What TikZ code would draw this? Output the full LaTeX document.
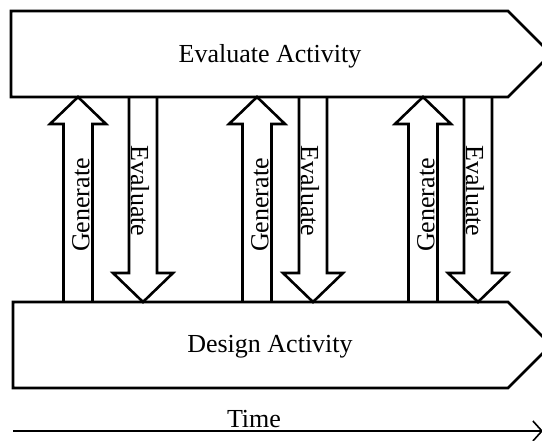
\documentclass[tikz,border=0pt]{standalone}
\usepackage{fontspec}
\setmainfont{Liberation Serif}
\usetikzlibrary{arrows.meta}
\tikzset{block/.style={draw, line width=2.6pt, line join=miter},
         lbl/.style={font=\fontsize{26}{30}\selectfont, inner sep=0pt}}

\begin{document}
\begin{tikzpicture}[x=1pt, y=-1pt]
    \fill[white] (0,0) rectangle (542,441);
    \useasboundingbox (0,0) rectangle (542,441);
    \foreach \g/\e [count=\i] in {78/143, 257/313, 423/478} {
        \draw[block] (\g-14.5,302) -- (\g-14.5,124) -- (\g-28,124) -- (\g,97)
            -- (\g+28,124) -- (\g+14.5,124) -- (\g+14.5,302);
        \node[lbl, rotate=90] (gen\i) at (\g+3,205) {Generate};
        \draw[block] (\e-14,97) -- (\e-14,273) -- (\e-30,273) -- (\e,302)
            -- (\e+30,273) -- (\e+14,273) -- (\e+14,97);
        \node[lbl, rotate=-90] (eval\i) at (\e-3,191) {Evaluate};
    }
    \draw[block] (11,11) -- (508,11) -- (551,54) -- (508,97) -- (11,97) -- cycle;
    \node[lbl, anchor=base] (evalact) at (270,63) {Evaluate Activity};
    \draw[block] (13,302) -- (508,302) -- (551,345) -- (508,388) -- (13,388) -- cycle;
    \node[lbl, anchor=base] (designact) at (270,353) {Design Activity};
    \coordinate (t0) at (13,431);
    \coordinate (t1) at (543,431);
    \draw[line width=1.6pt, -{Straight Barb[length=9pt,width=20pt]}] (t0) -- (t1);
    \node[lbl, anchor=base] (time) at (254,428) {Time};
\end{tikzpicture}
\end{document}
